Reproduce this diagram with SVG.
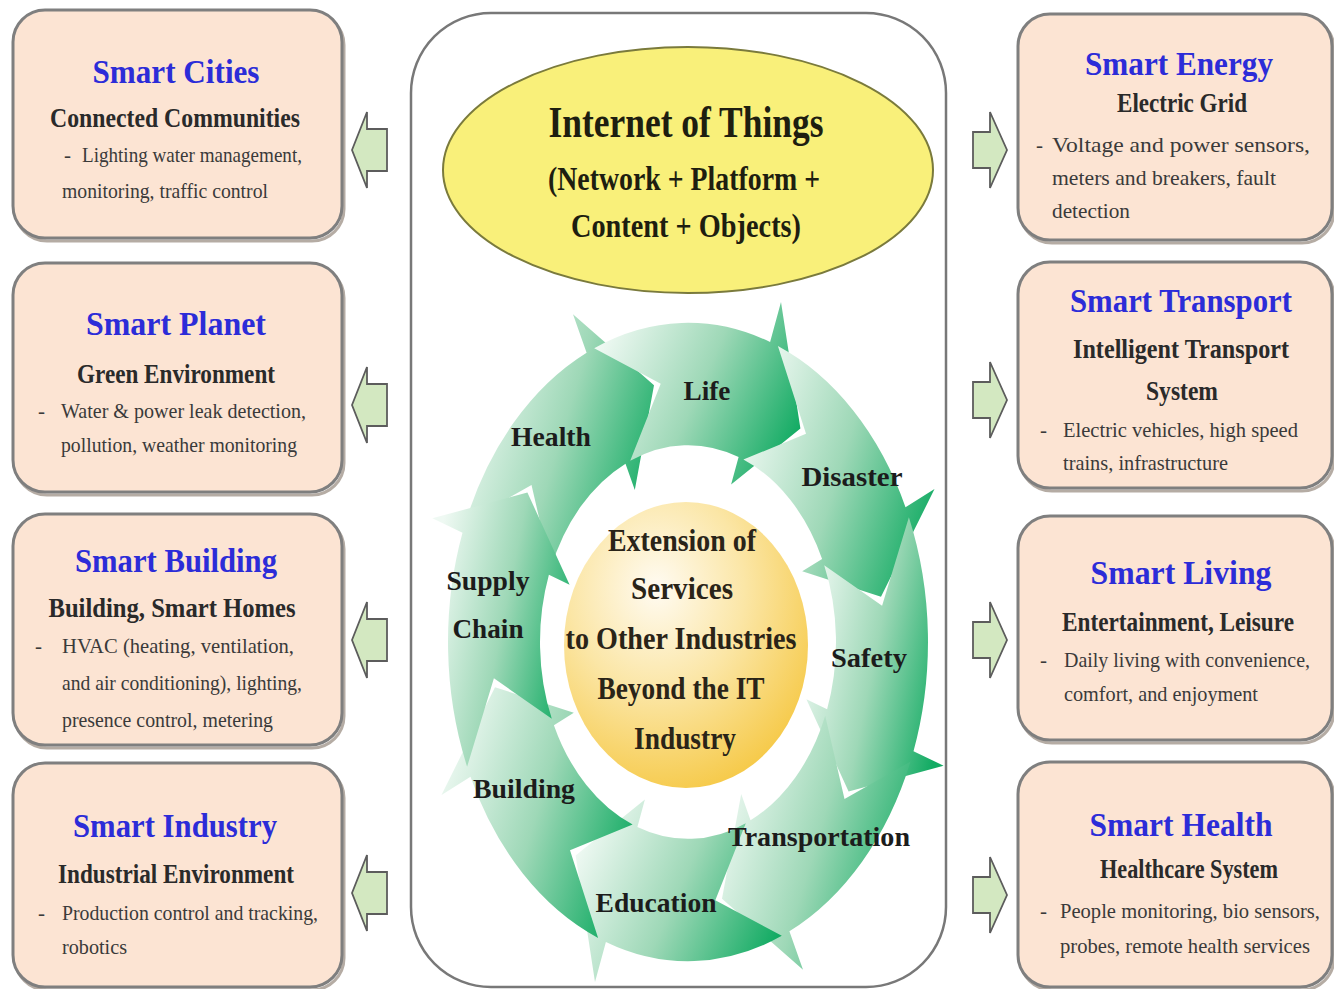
<svg xmlns="http://www.w3.org/2000/svg" width="1334" height="989" viewBox="0 0 1334 989">
<defs>
<style>
.box{fill:#fce4d3;stroke:#7f7f7f;stroke-width:3}
.bsh{fill:none;stroke:#b5aca4;stroke-width:3}
.ttl{font-family:"Liberation Serif",serif;font-weight:bold;font-size:33px;fill:#2c2cd8;text-anchor:middle}
.sub{font-family:"Liberation Serif",serif;font-weight:bold;font-size:28px;fill:#2a2a2a;text-anchor:middle}
.dsc{font-family:"Liberation Serif",serif;font-size:21px;fill:#3a3a3a}
.lbl{font-family:"Liberation Serif",serif;font-weight:bold;font-size:28px;fill:#1c1c1c;text-anchor:middle}
.ctr{font-family:"Liberation Serif",serif;font-weight:bold;font-size:31px;fill:#2a2418;text-anchor:middle}
.iot{font-family:"Liberation Serif",serif;font-weight:bold;fill:#1e1e10;text-anchor:middle}
.blk{fill:#d3e8c1;stroke:#5c5c5c;stroke-width:1.8;stroke-linejoin:miter}
.seg{fill:url(#gseg);stroke:none}
</style>
<linearGradient id="gseg" x1="0" y1="0.3" x2="1" y2="0.7">
<stop offset="0" stop-color="#eff9f3"/>
<stop offset="0.5" stop-color="#9ed8b7"/>
<stop offset="1" stop-color="#12ab63"/>
</linearGradient>
<radialGradient id="gsun" cx="0.38" cy="0.3" r="0.8">
<stop offset="0" stop-color="#fffbf2"/>
<stop offset="0.45" stop-color="#fbe6a6"/>
<stop offset="1" stop-color="#f5c53a"/>
</radialGradient>
</defs>
<rect width="1334" height="989" fill="#ffffff"/>

<g id="iot-container">
<rect x="411" y="13" width="535" height="974" rx="80" fill="#ffffff" stroke="#787878" stroke-width="2.5"/>
</g>

<g id="iot">
<ellipse cx="688" cy="170" rx="245" ry="123" fill="#f9f07a" stroke="#7a7a3c" stroke-width="2"/>
<text class="iot" x="686" y="137" font-size="44" textLength="275" lengthAdjust="spacingAndGlyphs">Internet of Things</text>
<text class="iot" x="684" y="190" font-size="33" textLength="272" lengthAdjust="spacingAndGlyphs">(Network + Platform +</text>
<text class="iot" x="686" y="237" font-size="33" textLength="230" lengthAdjust="spacingAndGlyphs">Content + Objects)</text>
</g>

<g id="cycle" transform="translate(688,642) scale(1,1.33)">
<path id="seg-health" class="seg" d="M-222.5,-89.9 A240,240 0 0 1 -101.4,-217.5 L-115.0,-246.5 L-34.0,-193.0 L-53.2,-114.2 L-62.5,-134.1 A148,148 0 0 0 -137.2,-55.4 L-156.5,-118.0 Z"/>
<path id="seg-life" class="seg" d="M-93.8,-220.9 A240,240 0 0 1 82.1,-225.5 L93.0,-255.6 L112.4,-160.6 L43.1,-118.4 L50.6,-139.1 A148,148 0 0 0 -57.8,-136.2 L-27.3,-194.1 Z"/>
<path id="seg-disaster" class="seg" d="M89.9,-222.5 A240,240 0 0 1 217.5,-101.4 L246.5,-115.0 L193.0,-34.0 L114.2,-53.2 L134.1,-62.5 A148,148 0 0 0 55.4,-137.2 L118.0,-156.5 Z"/>
<path id="seg-safety" class="seg" d="M220.9,-93.8 A240,240 0 0 1 225.5,82.1 L255.6,93.0 L160.6,112.4 L118.4,43.1 L139.1,50.6 A148,148 0 0 0 136.2,-57.8 L194.1,-27.3 Z"/>
<path id="seg-transportation" class="seg" d="M222.5,89.9 A240,240 0 0 1 101.4,217.5 L115.0,246.5 L34.0,193.0 L53.2,114.2 L62.5,134.1 A148,148 0 0 0 137.2,55.4 L156.5,118.0 Z"/>
<path id="seg-education" class="seg" d="M93.8,220.9 A240,240 0 0 1 -82.1,225.5 L-93.0,255.6 L-112.4,160.6 L-43.1,118.4 L-50.6,139.1 A148,148 0 0 0 57.8,136.2 L27.3,194.1 Z"/>
<path id="seg-building" class="seg" d="M-89.9,222.5 A240,240 0 0 1 -217.5,101.4 L-246.5,115.0 L-193.0,34.0 L-114.2,53.2 L-134.1,62.5 A148,148 0 0 0 -55.4,137.2 L-118.0,156.5 Z"/>
<path id="seg-supply" class="seg" d="M-220.9,93.8 A240,240 0 0 1 -225.5,-82.1 L-255.6,-93.0 L-160.6,-112.4 L-118.4,-43.1 L-139.1,-50.6 A148,148 0 0 0 -136.2,57.8 L-194.1,27.3 Z"/>
</g>

<g id="cycle-labels">
<text class="lbl" x="707" y="400" textLength="47" lengthAdjust="spacingAndGlyphs">Life</text>
<text class="lbl" x="551" y="446" textLength="80" lengthAdjust="spacingAndGlyphs">Health</text>
<text class="lbl" x="852" y="486" textLength="101" lengthAdjust="spacingAndGlyphs">Disaster</text>
<text class="lbl" x="488" y="590" textLength="83" lengthAdjust="spacingAndGlyphs">Supply</text>
<text class="lbl" x="488" y="638" textLength="71" lengthAdjust="spacingAndGlyphs">Chain</text>
<text class="lbl" x="869" y="667" textLength="76" lengthAdjust="spacingAndGlyphs">Safety</text>
<text class="lbl" x="524" y="798" textLength="102" lengthAdjust="spacingAndGlyphs">Building</text>
<text class="lbl" x="819" y="846" textLength="182" lengthAdjust="spacingAndGlyphs">Transportation</text>
<text class="lbl" x="656" y="912" textLength="121" lengthAdjust="spacingAndGlyphs">Education</text>
</g>

<g id="extension">
<ellipse cx="686" cy="645" rx="122" ry="143" fill="url(#gsun)"/>
<text class="ctr" x="682" y="551" textLength="148" lengthAdjust="spacingAndGlyphs">Extension of</text>
<text class="ctr" x="682" y="599" textLength="102" lengthAdjust="spacingAndGlyphs">Services</text>
<text class="ctr" x="681" y="649" textLength="231" lengthAdjust="spacingAndGlyphs">to Other Industries</text>
<text class="ctr" x="681" y="699" textLength="167" lengthAdjust="spacingAndGlyphs">Beyond the IT</text>
<text class="ctr" x="685" y="749" textLength="102" lengthAdjust="spacingAndGlyphs">Industry</text>
</g>

<g id="connectors">
<polygon class="blk" points="352,150 367,112 367,129 387,129 387,171 367,171 367,188"/>
<polygon class="blk" points="352,405 367,367 367,384 387,384 387,426 367,426 367,443"/>
<polygon class="blk" points="352,640 367,602 367,619 387,619 387,661 367,661 367,678"/>
<polygon class="blk" points="352,893 367,855 367,872 387,872 387,914 367,914 367,931"/>
<polygon class="blk" points="1007,150 990,112 990,132 973,132 973,168 990,168 990,188"/>
<polygon class="blk" points="1007,400 990,362 990,382 973,382 973,418 990,418 990,438"/>
<polygon class="blk" points="1007,640 990,602 990,622 973,622 973,658 990,658 990,678"/>
<polygon class="blk" points="1007,895 990,857 990,877 973,877 973,913 990,913 990,933"/>
</g>

<g id="smart-cities">
<rect class="bsh" x="15" y="13" width="329" height="228" rx="32"/>
<rect class="box" x="13" y="10" width="329" height="228" rx="32"/>
<text class="ttl" x="176" y="83" textLength="167" lengthAdjust="spacingAndGlyphs">Smart Cities</text>
<text class="sub" x="175" y="127" textLength="250" lengthAdjust="spacingAndGlyphs">Connected Communities</text>
<text class="dsc" x="64" y="162">-</text>
<text class="dsc" x="82" y="162" textLength="220" lengthAdjust="spacingAndGlyphs">Lighting water management,</text>
<text class="dsc" x="62" y="198" textLength="206" lengthAdjust="spacingAndGlyphs">monitoring, traffic control</text>
</g>

<g id="smart-planet">
<rect class="bsh" x="15" y="266" width="329" height="229" rx="32"/>
<rect class="box" x="13" y="263" width="329" height="229" rx="32"/>
<text class="ttl" x="176" y="335" textLength="180" lengthAdjust="spacingAndGlyphs">Smart Planet</text>
<text class="sub" x="176" y="383" textLength="198" lengthAdjust="spacingAndGlyphs">Green Environment</text>
<text class="dsc" x="38" y="418">-</text>
<text class="dsc" x="61" y="418" textLength="245" lengthAdjust="spacingAndGlyphs">Water &amp; power leak detection,</text>
<text class="dsc" x="61" y="452" textLength="236" lengthAdjust="spacingAndGlyphs">pollution, weather monitoring</text>
</g>

<g id="smart-building">
<rect class="bsh" x="15" y="517" width="329" height="231" rx="32"/>
<rect class="box" x="13" y="514" width="329" height="231" rx="32"/>
<text class="ttl" x="176" y="572" textLength="202" lengthAdjust="spacingAndGlyphs">Smart Building</text>
<text class="sub" x="172" y="617" textLength="247" lengthAdjust="spacingAndGlyphs">Building, Smart Homes</text>
<text class="dsc" x="35" y="653">-</text>
<text class="dsc" x="62" y="653" textLength="232" lengthAdjust="spacingAndGlyphs">HVAC (heating, ventilation,</text>
<text class="dsc" x="62" y="690" textLength="240" lengthAdjust="spacingAndGlyphs">and air conditioning), lighting,</text>
<text class="dsc" x="62" y="727" textLength="211" lengthAdjust="spacingAndGlyphs">presence control, metering</text>
</g>

<g id="smart-industry">
<rect class="bsh" x="15" y="766" width="329" height="224" rx="32"/>
<rect class="box" x="13" y="763" width="329" height="224" rx="32"/>
<text class="ttl" x="175" y="837" textLength="204" lengthAdjust="spacingAndGlyphs">Smart Industry</text>
<text class="sub" x="176" y="883" textLength="236" lengthAdjust="spacingAndGlyphs">Industrial Environment</text>
<text class="dsc" x="38" y="920">-</text>
<text class="dsc" x="62" y="920" textLength="256" lengthAdjust="spacingAndGlyphs">Production control and tracking,</text>
<text class="dsc" x="62" y="954" textLength="65" lengthAdjust="spacingAndGlyphs">robotics</text>
</g>

<g id="smart-energy">
<rect class="bsh" x="1020" y="17" width="314" height="226" rx="32"/>
<rect class="box" x="1018" y="14" width="314" height="226" rx="32"/>
<text class="ttl" x="1179" y="75" textLength="188" lengthAdjust="spacingAndGlyphs">Smart Energy</text>
<text class="sub" x="1182" y="112" font-size="27" textLength="130" lengthAdjust="spacingAndGlyphs">Electric Grid</text>
<text class="dsc" x="1036" y="152">-</text>
<text class="dsc" x="1052" y="152" textLength="258" lengthAdjust="spacingAndGlyphs">Voltage  and power sensors,</text>
<text class="dsc" x="1052" y="185" textLength="224" lengthAdjust="spacingAndGlyphs">meters and breakers, fault</text>
<text class="dsc" x="1052" y="218" textLength="78" lengthAdjust="spacingAndGlyphs">detection</text>
</g>

<g id="smart-transport">
<rect class="bsh" x="1020" y="265" width="314" height="226" rx="32"/>
<rect class="box" x="1018" y="262" width="314" height="226" rx="32"/>
<text class="ttl" x="1181" y="312" textLength="222" lengthAdjust="spacingAndGlyphs">Smart Transport</text>
<text class="sub" x="1181" y="358" textLength="216" lengthAdjust="spacingAndGlyphs">Intelligent Transport</text>
<text class="sub" x="1182" y="400" textLength="72" lengthAdjust="spacingAndGlyphs">System</text>
<text class="dsc" x="1040" y="437">-</text>
<text class="dsc" x="1063" y="437" textLength="235" lengthAdjust="spacingAndGlyphs">Electric vehicles, high speed</text>
<text class="dsc" x="1063" y="470" textLength="165" lengthAdjust="spacingAndGlyphs">trains, infrastructure</text>
</g>

<g id="smart-living">
<rect class="bsh" x="1020" y="519" width="314" height="224" rx="32"/>
<rect class="box" x="1018" y="516" width="314" height="224" rx="32"/>
<text class="ttl" x="1181" y="584" textLength="181" lengthAdjust="spacingAndGlyphs">Smart Living</text>
<text class="sub" x="1178" y="631" font-size="26" textLength="232" lengthAdjust="spacingAndGlyphs">Entertainment, Leisure</text>
<text class="dsc" x="1040" y="667">-</text>
<text class="dsc" x="1064" y="667" textLength="246" lengthAdjust="spacingAndGlyphs">Daily living with convenience,</text>
<text class="dsc" x="1064" y="701" textLength="194" lengthAdjust="spacingAndGlyphs">comfort, and enjoyment</text>
</g>

<g id="smart-health">
<rect class="bsh" x="1020" y="765" width="314" height="225" rx="32"/>
<rect class="box" x="1018" y="762" width="314" height="225" rx="32"/>
<text class="ttl" x="1181" y="836" textLength="183" lengthAdjust="spacingAndGlyphs">Smart Health</text>
<text class="sub" x="1189" y="878" textLength="178" lengthAdjust="spacingAndGlyphs">Healthcare System</text>
<text class="dsc" x="1040" y="918">-</text>
<text class="dsc" x="1060" y="918" textLength="260" lengthAdjust="spacingAndGlyphs">People monitoring, bio sensors,</text>
<text class="dsc" x="1060" y="953" textLength="250" lengthAdjust="spacingAndGlyphs">probes, remote health services</text>
</g>
</svg>
